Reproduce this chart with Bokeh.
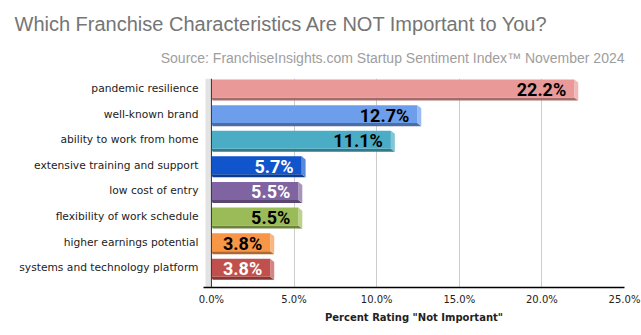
from bokeh.plotting import figure
from bokeh.models import Range1d, FixedTicker, Title, ColumnDataSource, Span
from bokeh.embed import file_html
from bokeh.resources import INLINE
from bokeh.core.properties import value

categories = ["pandemic resilience", "well-known brand", "ability to work from home",
              "extensive training and support", "low cost of entry",
              "flexibility of work schedule", "higher earnings potential",
              "systems and technology platform"]
values = [22.2, 12.7, 11.1, 5.7, 5.5, 5.5, 3.8, 3.8]
value_labels = ["22.2%", "12.7%", "11.1%", "5.7%", "5.5%", "5.5%", "3.8%", "3.8%"]
x_ticks = [0, 5, 10, 15, 20, 25]
x_tick_labels = ["0.0%", "5.0%", "10.0%", "15.0%", "20.0%", "25.0%"]

face_colors = ["#EA9999", "#6D9EEB", "#4BACC6", "#1155CC", "#8064A2", "#9BBB59", "#F79646", "#C0504D"]
bottom_colors = ["#A46B6B", "#4C6EA5", "#35788A", "#0C3B8F", "#5A4671", "#6D833E", "#AD6931", "#863836"]
side_colors = ["#F0B8B8", "#99BBF1", "#81C5D7", "#5A88DB", "#A693BE", "#BCD28C", "#F9B684", "#D48583"]
label_colors = ["black", "black", "black", "white", "white", "black", "black", "white"]

p = figure(width=641, height=335, output_backend="svg", toolbar_location=None,
           x_range=Range1d(-0.48, 25), y_range=Range1d(7.77, -0.39),
           min_border_left=203, min_border_right=17, min_border_bottom=48, min_border_top=78)
p.outline_line_color = None
p.background_fill_color = "white"

# titles
sub = Title(text="Source: FranchiseInsights.com Startup Sentiment Index\u2122 November 2024",
            align="right", text_font="Liberation Sans", text_font_size="14px",
            text_color="#9E9E9E", text_font_style="normal", standoff=26)
p.add_layout(sub, "above")
main = Title(text="Which Franchise Characteristics Are NOT Important to You?",
             align="left", offset=-189, text_font="Liberation Sans", text_font_size="20px",
             text_color="#757575", text_font_style="normal", standoff=0)
p.add_layout(main, "above")

# 3D wall on the left
p.quad(left=-0.36, right=0, top=-0.39, bottom=7.77, fill_color="#E3E3E3", line_color=None)

# grid
p.xgrid.ticker = FixedTicker(ticks=x_ticks[1:])
p.xgrid.grid_line_color = "#CCCCCC"
p.ygrid.grid_line_color = None
p.add_layout(Span(location=0, dimension="height", line_color="#333333", line_width=1))

h = 0.70
dy = 0.12
dx = 0.24
ys = list(range(len(categories)))
for i, v in enumerate(values):
    top = ys[i] - h / 2
    bot = ys[i] + h / 2
    f = v - dx
    # bottom face
    p.patch([0, f, v, dx * 0.3], [bot, bot, bot + dy, bot + dy],
            fill_color=bottom_colors[i], line_color=None)
    # right face
    p.patch([f, v, v, f], [top, top + dy, bot + dy, bot],
            fill_color=side_colors[i], line_color=None)
    # front face
    p.quad(left=0, right=f, top=top, bottom=bot, fill_color=face_colors[i], line_color=None)

src = ColumnDataSource(dict(x=values, y=ys, t=value_labels, c=label_colors))
p.text(x="x", y="y", text="t", text_color="c", source=src, text_align="right",
       text_baseline="middle", x_offset=-12, y_offset=1, text_font=value("Roboto"),
       text_font_size="18px", text_font_style="bold")

# axes
p.xaxis.ticker = FixedTicker(ticks=x_ticks)
p.xaxis.major_label_overrides = {t: l for t, l in zip(x_ticks, x_tick_labels)}
p.xaxis.axis_line_color = "black"
p.xaxis.axis_line_width = 1.5
p.xaxis.major_tick_line_color = None
p.xaxis.major_tick_out = 0
p.xaxis.major_tick_in = 0
p.xaxis.minor_tick_line_color = None
p.xaxis.major_label_text_font = "DejaVu Sans"
p.xaxis.major_label_text_font_size = "10px"
p.xaxis.major_label_text_color = "#222222"
p.xaxis.major_label_standoff = 6
p.xaxis.axis_label = 'Percent Rating "Not Important"'
p.xaxis.axis_label_text_font = "DejaVu Sans"
p.xaxis.axis_label_text_font_size = "10px"
p.xaxis.axis_label_text_font_style = "bold"
p.xaxis.axis_label_text_color = "#222222"
p.xaxis.axis_label_standoff = 4

p.yaxis.ticker = FixedTicker(ticks=ys)
p.yaxis.major_label_overrides = {i: c for i, c in zip(ys, categories)}
p.yaxis.axis_line_color = None
p.yaxis.major_tick_line_color = None
p.yaxis.major_tick_out = 0
p.yaxis.major_tick_in = 0
p.yaxis.minor_tick_line_color = None
p.yaxis.major_label_text_font = "DejaVu Sans"
p.yaxis.major_label_text_font_size = "10.7px"
p.yaxis.major_label_text_color = "#222222"
p.yaxis.major_label_standoff = 5

open("out.html", "w").write(file_html(p, INLINE))
